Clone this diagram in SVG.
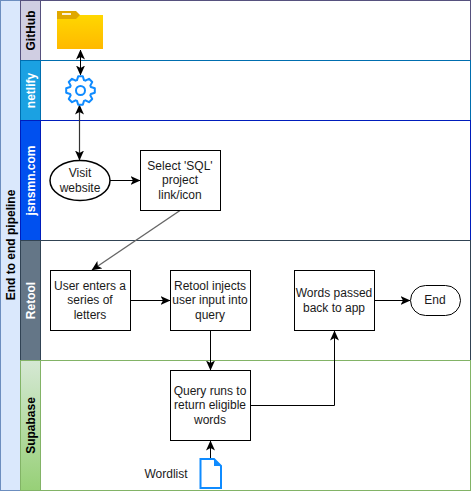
<svg xmlns="http://www.w3.org/2000/svg" width="471" height="491" viewBox="0 0 471 491">
<style>
text{font-family:Helvetica,"Liberation Sans",Arial,sans-serif;font-size:12px;fill:#1a1a1a;text-anchor:middle}
.h{font-weight:bold;fill:#000}
.w{fill:#fff}
.b{fill:#fff;stroke:#000;stroke-width:1}
.c{fill:none;stroke:#000;stroke-width:1}
</style>
<defs>
<linearGradient id="g1" x1="0" y1="0" x2="0" y2="1"><stop offset="0" stop-color="#d5e8d4"/><stop offset="1" stop-color="#97d077"/></linearGradient>
<linearGradient id="g2" x1="0" y1="0" x2="0" y2="1"><stop offset="0" stop-color="#ffd700"/><stop offset="1" stop-color="#ffb900"/></linearGradient>
<marker id="a" viewBox="0 0 10 10" refX="9.500" refY="5" markerWidth="10" markerHeight="10" markerUnits="userSpaceOnUse" orient="auto-start-reverse"><path d="M0 0.500L10 5L0 9.500L2.500 5Z" fill="#000"/></marker>
</defs>
<g id="pool">
<rect x="0.5" y="0.5" width="470" height="490" fill="#fff" stroke="#6c8ebf"/>
<rect x="0.5" y="0.5" width="20" height="490" fill="#dae8fc" stroke="#6c8ebf"/>
<text class="h" transform="translate(14.500,245) rotate(-90)">End to end pipeline</text>
</g>
<g id="lane-github">
<rect x="20.500" y="0.5" width="450" height="60" fill="#fff" stroke="#56517e"/>
<rect x="20.500" y="0.5" width="20" height="60" fill="#d0cee2" stroke="#56517e"/>
<text class="h" transform="translate(34.500,30.500) rotate(-90)">GitHub</text>
</g>
<g id="lane-netlify">
<rect x="20.500" y="60.500" width="450" height="60" fill="#fff" stroke="#006eaf"/>
<rect x="20.500" y="60.500" width="20" height="60" fill="#1ba1e2" stroke="#006eaf"/>
<text class="h w" transform="translate(34.500,90.500) rotate(-90)">netlify</text>
</g>
<g id="lane-jsnsmn">
<rect x="20.500" y="120.500" width="450" height="120" fill="#fff" stroke="#001dbc"/>
<rect x="20.500" y="120.500" width="20" height="120" fill="#0050ef" stroke="#001dbc"/>
<text class="h w" transform="translate(34.500,180.500) rotate(-90)">jsnsmn.com</text>
</g>
<g id="lane-retool">
<rect x="20.500" y="240.500" width="450" height="120" fill="#fff" stroke="#314354"/>
<rect x="20.500" y="240.500" width="20" height="120" fill="#647687" stroke="#314354"/>
<text class="h w" transform="translate(34.500,300.500) rotate(-90)">Retool</text>
</g>
<g id="lane-supabase">
<rect x="20.500" y="360.500" width="450" height="130" fill="#fff" stroke="#82b366"/>
<rect x="20.500" y="360.500" width="20" height="130" fill="url(#g1)" stroke="#82b366"/>
<text class="h" transform="translate(34.500,425.500) rotate(-90)">Supabase</text>
</g>
<g id="connectors">
<path class="c" d="M80.500 50V75" marker-start="url(#a)" marker-end="url(#a)"/>
<path d="M79.500 105V160" fill="none" stroke="#333" stroke-width="1.200" marker-start="url(#a)" marker-end="url(#a)"/>
<path class="c" d="M110 180.500H140" marker-end="url(#a)"/>
<path d="M180 210.500L92 270" fill="none" stroke="#666" stroke-width="1.400" marker-end="url(#a)"/>
<path class="c" d="M130 300.500H170" marker-end="url(#a)"/>
<path class="c" d="M210.500 330V370" marker-end="url(#a)"/>
<path class="c" d="M250 405.500H334.500V331" marker-end="url(#a)"/>
<path class="c" d="M374 300.500H410" marker-end="url(#a)"/>
<path class="c" d="M210.500 458V441" marker-end="url(#a)"/>
</g>
<g id="folder">
<rect x="57" y="15" width="46" height="34" fill="url(#g2)"/>
<path d="M57 11H76L80 15L76 19H57Z" fill="#e0a800"/>
<rect x="62" y="13" width="9" height="2" fill="#fff" opacity="0.85"/>
</g>
<g id="gear">
<path transform="translate(80.500,90.500)" d="M-3.500-10.400L-2.300-14.300L2.300-14.300L3.500-10.400L4.880-9.830L8.490-11.740L11.740-8.490L9.830-4.880L10.400-3.500L14.300-2.300L14.300 2.300L10.400 3.500L9.830 4.880L11.740 8.490L8.490 11.740L4.880 9.830L3.500 10.400L2.300 14.300L-2.300 14.300L-3.500 10.400L-4.880 9.830L-8.490 11.740L-11.740 8.490L-9.830 4.880L-10.400 3.500L-14.300 2.300L-14.300-2.300L-10.400-3.500L-9.830-4.880L-11.740-8.490L-8.490-11.740L-4.880-9.830Z" fill="#fff" stroke="#0f8bff" stroke-width="2" stroke-linejoin="round"/>
<circle cx="80.500" cy="90.500" r="4.500" fill="#fff" stroke="#0f8bff" stroke-width="2"/>
</g>
<g id="visit">
<ellipse class="b" cx="80" cy="180.500" rx="30" ry="20" style="stroke-width:1.500"/>
<text x="80" y="177">Visit</text><text x="80" y="192">website</text>
</g>
<g id="select">
<rect class="b" x="140.500" y="150.500" width="80" height="60"/>
<text x="180" y="170">Select 'SQL'</text><text x="180" y="184">project</text><text x="180" y="199">link/icon</text>
</g>
<g id="enter">
<rect class="b" x="50.500" y="270.500" width="80" height="60"/>
<text x="90" y="290">User enters a</text><text x="90" y="304">series of</text><text x="90" y="319">letters</text>
</g>
<g id="inject">
<rect class="b" x="170.500" y="270.500" width="80" height="60"/>
<text x="210" y="290">Retool injects</text><text x="210" y="304">user input into</text><text x="210" y="319">query</text>
</g>
<g id="passed">
<rect class="b" x="294.500" y="270.500" width="80" height="60"/>
<text x="334" y="297">Words passed</text><text x="334" y="312">back to app</text>
</g>
<g id="end">
<rect class="b" x="410.500" y="285.500" width="50" height="30" rx="15" ry="15"/>
<text x="435" y="304">End</text>
</g>
<g id="query">
<rect class="b" x="170.500" y="370.500" width="80" height="70"/>
<text x="210" y="395">Query runs to</text><text x="210" y="409">return eligible</text><text x="210" y="424">words</text>
</g>
<g id="wordlist">
<path d="M200.500 459H214L221 466V488H200.500Z" fill="#fff" stroke="#0f8bff" stroke-width="2"/>
<path d="M214 459V466H221Z" fill="#0f8bff"/>
<text x="166" y="478">Wordlist</text>
</g>
</svg>
